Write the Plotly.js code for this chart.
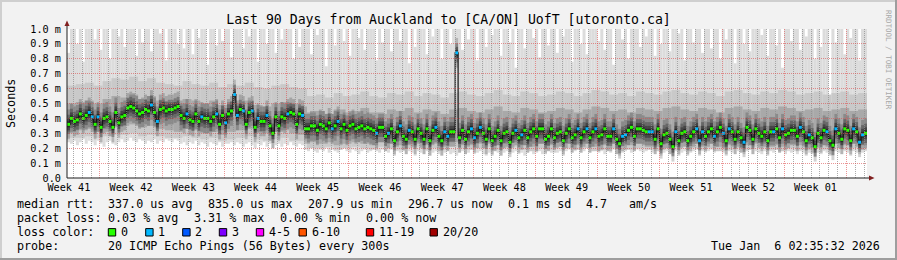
<!DOCTYPE html>
<html><head><meta charset="utf-8">
<script src="https://cdn.plot.ly/plotly-3.0.1.min.js"></script>
<style>html,body{margin:0;padding:0;background:#f2f2f2;}#chart{width:897px;height:260px;}</style>
</head><body><div id="chart"></div>
<script>
// ---------------- data ----------------
const startUTC = Date.UTC(2025, 9, 9, 7, 0, 0);
const DAY = 86400000;
const nDays = 90;
const firstMonday = Date.UTC(2025, 9, 13);

// median rtt (ms), one value per 8 hours
const median = [
0.36,0.40,0.38,0.39,0.43,0.40,0.42,0.44,0.41,0.36,
0.41,0.34,0.40,0.41,0.38,0.34,0.44,0.37,0.41,0.42,
0.47,0.48,0.47,0.45,0.43,0.44,0.46,0.45,0.49,0.44,
0.38,0.46,0.47,0.45,0.46,0.46,0.47,0.48,0.42,0.40,
0.43,0.39,0.38,0.43,0.38,0.41,0.40,0.40,0.38,0.41,
0.43,0.36,0.42,0.37,
0.43,0.45,0.56,0.42,0.46,0.45,0.36,0.44,0.45,0.34,
0.40,0.38,0.38,0.42,0.35,0.30,0.41,0.35,0.41,0.40,
0.43,0.44,0.43,0.36,0.43,0.42,0.33,0.33,0.35,0.35,
0.32,0.36,0.35,0.33,0.37,0.33,0.35,0.38,0.33,0.36,
0.32,0.35,0.36,0.33,0.34,0.35,0.33,0.34,0.33,0.32,
0.30,0.34,0.34,0.28,
0.30,0.33,0.25,0.31,0.35,0.28,0.26,0.32,0.31,0.26,
0.33,0.30,0.26,0.33,0.25,0.32,0.34,0.28,0.25,0.31,
0.28,0.31,0.31,0.84,0.27,0.32,0.26,0.31,0.33,0.27,
0.30,0.34,0.30,0.26,0.33,0.25,0.28,0.32,0.25,0.30,
0.31,0.24,0.30,0.32,0.27,0.29,0.32,0.27,0.31,0.33,
0.28,0.33,0.33,0.26,
0.28,0.33,0.27,0.30,0.31,0.25,0.30,0.33,0.27,0.29,
0.33,0.27,0.31,0.33,0.27,0.31,0.33,0.28,0.29,0.33,
0.28,0.28,0.33,0.26,0.23,0.28,0.29,0.32,0.34,0.28,
0.33,0.33,0.32,0.31,0.31,0.31,0.26,0.33,0.23,0.29,
0.30,0.26,0.21,0.31,0.25,0.30,0.31,0.25,0.28,0.31,
0.33,0.25,0.31,0.28,
0.31,0.33,0.28,0.31,0.34,0.30,0.25,0.33,0.31,0.26,
0.31,0.27,0.24,0.34,0.32,0.26,0.33,0.30,0.28,0.31,
0.25,0.31,0.31,0.33,0.27,0.33,0.29,0.30,0.32,0.32,
0.28,0.34,0.31,0.25,0.29,0.27,0.21,0.30,0.27,0.32,
0.31,0.25,0.22,0.33,0.30,0.26,0.33,0.32,0.25,0.33,
0.31,0.24,0.29,0.30];

// lost pings per sample (0 .. 20)
const lossCount = [
0,0,0,0,0,0,0,1,1,0, 1,0,0,0,0,0,0,0,0,0, 0,0,0,0,0,0,0,0,1,0, 1,0,0,0,0,0,0,0,0,0, 1,0,0,0,0,1,0,0,0,0, 1,0,0,1,
0,0,1,1,0,1,0,0,1,0, 1,0,0,1,0,0,0,0,0,0, 1,0,0,0,0,1,0,0,0,0, 0,0,0,0,0,1,0,1,0,0, 0,0,0,0,0,0,0,0,0,0, 1,0,0,0,
1,0,0,0,1,0,0,1,0,0, 0,0,0,0,0,0,1,0,0,1, 1,0,0,1,0,0,0,0,1,1, 0,1,0,0,0,0,0,0,0,0, 0,0,0,1,0,1,0,0,0,0, 0,0,0,0,
0,0,0,0,0,0,0,0,0,0, 1,0,0,1,0,0,1,0,0,0, 0,0,1,0,0,1,1,0,0,0, 0,0,0,0,1,1,0,0,0,0, 0,0,0,1,0,0,0,0,0,0, 1,1,1,0,
0,0,1,0,0,1,0,1,0,0, 0,0,1,0,0,0,0,0,0,0, 0,0,1,0,0,1,0,0,0,0, 0,1,0,0,1,0,0,0,0,0, 1,0,0,1,0,0,0,0,0,1, 0,1,1,0];

// highest ping per sample (ms)
const maxPing = [
0.84,1.2,1.2,0.9,1.2,0.78,1.2,1.2,1.2,0.93, 1.2,0.86,1.2,1.2,0.8,1.2,1.2,0.95,1.2,0.88, 1.2,1.2,1.2,0.82,1.2,0.91,1.2,1.2,0.85,1.2, 1.2,0.97,1.2,0.79,1.2,1.2,1.2,0.9,1.2,0.87, 1.2,1.2,0.83,1.2,0.94,1.2,1.2,0.76,1.2,1.2, 0.89,1.2,0.92,1.2,
1.2,0.81,1.2,1.2,1.2,0.87,1.2,0.95,1.2,1.2, 0.78,1.2,1.2,0.9,1.2,1.2,0.84,1.2,0.93,1.2, 1.2,1.2,0.8,1.2,0.88,1.2,1.2,1.2,0.83,1.2, 0.96,1.2,1.2,0.75,1.2,1.2,0.89,1.2,1.2,0.92, 1.2,0.82,1.2,1.2,0.94,1.2,0.86,1.2,1.2,1.2, 0.79,1.2,0.91,1.2,
1.2,0.85,1.2,1.2,0.92,1.2,1.2,0.77,1.2,0.88, 1.2,1.2,1.2,0.83,1.2,0.95,1.2,1.2,0.8,1.2, 1.2,0.9,1.2,1.2,1.2,0.86,1.2,0.93,1.2,1.2, 0.79,1.2,1.2,0.88,1.2,0.96,1.2,1.2,0.82,1.2, 1.2,0.91,1.2,0.74,1.2,1.2,0.87,1.2,1.2,0.94, 1.2,0.81,1.2,1.2,
0.89,1.2,1.2,0.84,1.2,0.95,1.2,1.2,0.78,1.2, 1.2,0.9,1.2,0.83,1.2,1.2,1.2,0.92,1.2,0.86, 1.2,1.2,0.76,1.2,1.2,0.93,1.2,0.8,1.2,1.2, 1.2,0.88,1.2,0.95,1.2,1.2,0.82,1.2,0.9,1.2, 1.2,0.85,1.2,1.2,0.97,1.2,0.79,1.2,1.2,0.91, 1.2,1.2,0.84,1.2,
1.2,0.87,1.2,1.2,0.8,1.2,0.93,1.2,1.2,0.77, 1.2,1.2,0.9,1.2,0.85,1.2,1.2,1.2,0.96,1.2, 0.82,1.2,1.2,0.89,1.2,0.74,1.2,1.2,0.92,1.2, 1.2,0.86,1.2,0.95,1.2,1.2,0.8,1.2,0.88,1.2, 1.2,0.52,1.2,0.91,1.2,1.2,0.83,1.2,0.94,1.2, 1.2,0.79,1.2,1.2];

// lowest ping per sample (ms)
const minPing = [
0.24,0.23,0.25,0.22,0.24,0.26,0.23,0.25,0.24,0.22, 0.25,0.23,0.21,0.24,0.25,0.23,0.22,0.24,0.26,0.24, 0.25,0.27,0.25,0.24,0.26,0.25,0.23,0.25,0.24,0.26, 0.23,0.25,0.24,0.26,0.25,0.24,0.26,0.25,0.23,0.24, 0.22,0.24,0.23,0.25,0.22,0.24,0.23,0.21,0.24,0.23, 0.22,0.24,0.21,0.23,
0.23,0.24,0.22,0.24,0.23,0.21,0.23,0.24,0.22,0.20, 0.23,0.22,0.24,0.21,0.23,0.20,0.22,0.23,0.21,0.23, 0.22,0.24,0.22,0.21,0.23,0.22, 0.19,0.18,0.20,0.18, 0.17,0.19,0.18,0.20,0.17,0.19,0.18,0.17,0.19,0.20, 0.18,0.17,0.19,0.18,0.16,0.18,0.19,0.17,0.18,0.20, 0.18,0.17,0.19,0.18,
0.17,0.19,0.16,0.18,0.17,0.19,0.16,0.18,0.17,0.15, 0.18,0.17,0.16,0.18,0.15,0.17,0.18,0.16,0.15,0.17, 0.18,0.16,0.17,0.15,0.17,0.18,0.16,0.17,0.19,0.16, 0.17,0.18,0.16,0.15,0.17,0.16,0.18,0.17,0.15,0.17, 0.18,0.16,0.17,0.18,0.16,0.17,0.15,0.17,0.18,0.16, 0.17,0.18,0.16,0.17,
0.18,0.17,0.19,0.17,0.18,0.16,0.18,0.19,0.17,0.18, 0.19,0.17,0.18,0.20,0.17,0.18,0.19,0.17,0.18,0.16, 0.18,0.17,0.19,0.16,0.15,0.17,0.18,0.19,0.17,0.18, 0.19,0.18,0.17,0.18,0.19,0.17,0.16,0.18,0.15,0.17, 0.18,0.16,0.15,0.18,0.16,0.17,0.18,0.16,0.17,0.18, 0.19,0.16,0.18,0.17,
0.18,0.19,0.17,0.18,0.19,0.17,0.16,0.18,0.17,0.16, 0.18,0.17,0.16,0.18,0.19,0.16,0.18,0.17,0.16,0.18, 0.16,0.18,0.17,0.19,0.17,0.18,0.16,0.18,0.17,0.18, 0.16,0.18,0.17,0.16,0.17,0.16,0.14,0.17,0.16,0.18, 0.17,0.16,0.15,0.18,0.17,0.16,0.18,0.17,0.16,0.18, 0.17,0.16,0.17,0.18];

// daily smoke envelopes (ms)
const outerHigh = [
0.62,0.63,0.64,0.62,0.65,0.67,0.66,0.68,0.65,0.67, 0.64,0.63,0.62,0.65,0.63,0.62,0.64,0.61,0.63,0.62, 0.64,0.61,0.60,0.62,0.63,0.61,0.60,
0.55,0.56,0.54,0.57,0.55,0.56,0.58,0.55,0.54,0.57, 0.56,0.58,0.55,0.57,0.56,0.54,0.57,0.58,0.56,0.55, 0.57,0.59,0.56,0.55,0.58,0.57,0.55,0.56,0.58,0.57, 0.55,0.57,0.59,0.58,0.56,0.57,0.55,0.58,0.57,0.56, 0.58,0.59,0.57,0.56,0.58,0.57,0.55,0.58,0.59,0.57, 0.56,0.58,0.57,0.59,0.58,0.56,0.57,0.58,0.56,0.57, 0.58,0.56,0.57];
const innerHigh = [
0.50,0.51,0.52,0.50,0.53,0.55,0.54,0.56,0.53,0.55, 0.52,0.51,0.50,0.53,0.52,0.50,0.52,0.49,0.51,0.50, 0.52,0.49,0.48,0.50,0.51,0.50,0.48,
0.44,0.45,0.43,0.46,0.44,0.45,0.47,0.44,0.43,0.46, 0.45,0.47,0.44,0.46,0.45,0.43,0.46,0.47,0.45,0.44, 0.46,0.48,0.45,0.44,0.47,0.46,0.44,0.45,0.47,0.46, 0.44,0.46,0.48,0.47,0.45,0.46,0.44,0.47,0.46,0.45, 0.47,0.48,0.46,0.45,0.47,0.46,0.44,0.47,0.48,0.46, 0.45,0.47,0.46,0.48,0.47,0.45,0.46,0.47,0.45,0.46, 0.47,0.45,0.46];
const innerLow = [
0.31,0.32,0.33,0.31,0.33,0.35,0.35,0.36,0.34,0.35, 0.33,0.32,0.31,0.33,0.32,0.30,0.31,0.29,0.31,0.32, 0.33,0.31,0.30,0.31,0.32,0.30,0.29,
0.24,0.23,0.24,0.22,0.23,0.24,0.23,0.22,0.24,0.23, 0.22,0.23,0.24,0.22,0.23,0.22,0.24,0.23,0.22,0.23, 0.24,0.22,0.23,0.24,0.22,0.21,0.23,0.22,0.24,0.23, 0.22,0.23,0.21,0.22,0.23,0.24,0.22,0.23,0.22,0.21, 0.23,0.22,0.24,0.23,0.22,0.23,0.21,0.22,0.23,0.22, 0.24,0.23,0.22,0.21,0.23,0.22,0.23,0.24,0.22,0.23, 0.22,0.23,0.22];
const outerLow = [
0.27,0.27,0.28,0.27,0.28,0.29,0.29,0.30,0.28,0.29, 0.28,0.27,0.27,0.28,0.27,0.26,0.27,0.25,0.26,0.27, 0.28,0.26,0.25,0.26,0.27,0.25,0.25,
0.20,0.20,0.21,0.19,0.20,0.21,0.20,0.19,0.21,0.20, 0.19,0.20,0.21,0.19,0.20,0.19,0.21,0.20,0.19,0.20, 0.21,0.19,0.20,0.21,0.19,0.18,0.20,0.19,0.21,0.20, 0.19,0.20,0.18,0.19,0.20,0.21,0.19,0.20,0.19,0.18, 0.20,0.19,0.21,0.20,0.19,0.20,0.18,0.19,0.20,0.19, 0.21,0.20,0.19,0.18,0.20,0.19,0.20,0.21,0.19,0.20, 0.19,0.20,0.19];

// axis / legend text
const yTickVals = [0,0.1,0.2,0.3,0.4,0.5,0.6,0.7,0.8,0.9,1.0];
const yTickText = ['0.0','0.1 m','0.2 m','0.3 m','0.4 m','0.5 m','0.6 m','0.7 m','0.8 m','0.9 m','1.0 m'];
const lossLabels = ['0','1','2','3','4-5','6-10','11-19','20/20'];
const lossColors = ['#26ff00','#00b8ff','#0059ff','#7e00ff','#ff00ff','#ff5500','#ff0000','#a10000'];
const rttLine = ['median rtt:','337.0 us avg','835.0 us max','207.9 us min','296.7 us now','0.1 ms sd','4.7','am/s'];
const lossLine = ['packet loss:','0.03 % avg','3.31 % max','0.00 % min','0.00 % now'];
const probeLine = ['probe:','20 ICMP Echo Pings (56 Bytes) every 300s'];
const stampText = 'Tue Jan\u00a0\u00a06 02:35:32 2026';
const titleText = 'Last 90 Days from Auckland to [CA/ON] UofT [utoronto.ca]';

// ---------------- build ----------------
const nSteps = median.length;
const stepMs = nDays * DAY / nSteps;
const tStep = median.map((_, i) => startUTC + (i + 0.5) * stepMs);
const tDay = outerHigh.map((_, d) => startUTC + (d + 0.5) * DAY);
const endUTC = startUTC + nDays * DAY;

const PX = x => (x - 67) / 800;
const PY = y => (178 - y) / 149;
const MONO = 'DejaVu Sans Mono';

const traces = [
  {type:'bar', x:tStep, base:minPing, y:maxPing.map((v,i)=>v-minPing[i]), width:stepMs*1.02,
   marker:{color:'#dcdcdc', line:{width:0}}, hoverinfo:'skip'},
  {type:'bar', x:tDay, base:outerLow, y:outerHigh.map((v,i)=>v-outerLow[i]), width:DAY*1.01,
   marker:{color:'#c9c9c9', line:{width:0}}, hoverinfo:'skip'},
  {type:'bar', x:tDay, base:innerLow, y:innerHigh.map((v,i)=>v-innerLow[i]), width:DAY*1.01,
   marker:{color:'#a9a9a9', line:{width:0}}, hoverinfo:'skip'}
];
// smoke density around the median (half-height in ms, opacity)
const coreLayers = [[0.10,0.18],[0.065,0.25],[0.04,0.32],[0.02,0.42]];
coreLayers.forEach(([h,a]) => traces.push({type:'bar', x:tStep, base:median.map(v=>v-h), y:median.map(()=>2*h),
  width:stepMs, marker:{color:`rgba(0,0,0,${a})`, line:{width:0}}, hoverinfo:'skip'}));
traces.push(
  {type:'scatter', mode:'lines', x:tStep, y:median, line:{shape:'hvh', color:'#141414', width:1.2}, hoverinfo:'skip'},
  {type:'scatter', mode:'markers', x:tStep, y:median,
   marker:{symbol:'square', size:3, color:lossCount.map(c=>lossColors[Math.min(c,7)]), line:{width:0}}, hoverinfo:'skip'},
  {type:'scatter', mode:'markers', x:[], y:[], xaxis:'x2', yaxis:'y2', hoverinfo:'skip'}
);

const gridMajor = 'rgba(222,79,79,0.6)';
const gridMinor = 'rgba(143,143,143,0.75)';

const annotations = [];
function txt(text, x, y, opts) {
  annotations.push(Object.assign({xref:'paper', yref:'paper', x:PX(x), y:PY(y), text:text,
    showarrow:false, xanchor:'left', yanchor:'middle', borderpad:0,
    font:{family:MONO, size:11.7, color:'#000'}}, opts || {}));
}
const rttX = [15.5,106.8,206.8,306.8,406.8,506.8,585.2,627.8];
rttLine.forEach((t,i)=>txt(t, rttX[i], 204.3));
const lossX = [15.5,106.8,192.8,278.8,365.2];
lossLine.forEach((t,i)=>txt(t, lossX[i], 218.3));
txt('loss color:', 15.5, 232.3);
const boxX = [108.3,145.7,182.7,219.3,256.3,299,366.3,430];
lossLabels.forEach((t,i)=>txt(t, boxX[i]+11.5, 232.3));
txt(probeLine[0], 15.5, 246.3);
txt(probeLine[1], 106.8, 246.3);
txt(stampText, 881, 246.3, {xanchor:'right'});
txt('Seconds', 11, 103, {xanchor:'center', textangle:-90});
txt('RRDTOOL / TOBI OETIKER', 889, 60, {xanchor:'center', textangle:90, font:{family:MONO, size:7.5, color:'#a8a8a8'}});

const shapes = [
  {type:'rect', layer:'below', xref:'paper', yref:'paper', x0:0, x1:1, y0:0, y1:1, fillcolor:'#ffffff', line:{width:0}},
  {type:'rect', xref:'paper', yref:'paper', x0:PX(0), x1:PX(897), y0:PY(2), y1:PY(0), fillcolor:'#cfcfcf', line:{width:0}},
  {type:'rect', xref:'paper', yref:'paper', x0:PX(0), x1:PX(2), y0:PY(260), y1:PY(0), fillcolor:'#cfcfcf', line:{width:0}},
  {type:'rect', xref:'paper', yref:'paper', x0:PX(895), x1:PX(897), y0:PY(260), y1:PY(0), fillcolor:'#9e9e9e', line:{width:0}},
  {type:'rect', xref:'paper', yref:'paper', x0:PX(0), x1:PX(897), y0:PY(260), y1:PY(258), fillcolor:'#9e9e9e', line:{width:0}},
  {type:'line', xref:'paper', yref:'paper', x0:PX(67), x1:PX(870), y0:PY(178), y1:PY(178), line:{color:'#1f1f1f', width:1}},
  {type:'line', xref:'paper', yref:'paper', x0:PX(67), x1:PX(67), y0:PY(178), y1:PY(24), line:{color:'#1f1f1f', width:1}},
  {type:'path', xref:'paper', yref:'paper', path:`M ${PX(64.5)} ${PY(26)} L ${PX(69.5)} ${PY(26)} L ${PX(67)} ${PY(20.5)} Z`, fillcolor:'#801f1f', line:{width:0}},
  {type:'path', xref:'paper', yref:'paper', path:`M ${PX(869)} ${PY(175.5)} L ${PX(869)} ${PY(180.5)} L ${PX(874.5)} ${PY(178)} Z`, fillcolor:'#801f1f', line:{width:0}}
];
boxX.forEach((bx,i)=>shapes.push({type:'rect', xref:'paper', yref:'paper', x0:PX(bx), x1:PX(bx+7.4), y0:PY(236), y1:PY(228.6),
  fillcolor:lossColors[i], line:{color:'#000', width:1}}));

const layout = {
  width:897, height:260,
  margin:{l:67, r:30, t:29, b:82, pad:0},
  paper_bgcolor:'#f2f2f2', plot_bgcolor:'rgba(0,0,0,0)',
  showlegend:false, barmode:'overlay', hovermode:false,
  title:{text:titleText, font:{family:MONO, size:13.2, color:'#000'}, xref:'container', x:0.5, xanchor:'center', yref:'container', y:1-19/260, yanchor:'middle'},
  xaxis:{type:'date', range:[startUTC, endUTC], visible:false, fixedrange:true},
  yaxis:{range:[0,1], visible:false, fixedrange:true},
  xaxis2:{type:'date', range:[startUTC, endUTC], anchor:'y2', tick0:firstMonday, dtick:7*DAY,
    tickformat:'Week %V', ticklabelmode:'period', ticks:'', showline:false, zeroline:false,
    showgrid:true, gridcolor:gridMajor, griddash:'1px,1px', gridwidth:1,
    minor:{tick0:firstMonday, dtick:DAY, showgrid:true, gridcolor:gridMinor, griddash:'1px,1px', gridwidth:1, ticks:''},
    tickfont:{family:MONO, size:10.2, color:'#000'}, ticklabelstandoff:2, fixedrange:true},
  yaxis2:{range:[0,1], anchor:'x2', tickvals:yTickVals, ticktext:yTickText, ticks:'', showline:false, zeroline:false,
    showgrid:true, gridcolor:gridMajor, griddash:'1px,1px', gridwidth:1,
    tickfont:{family:MONO, size:10.2, color:'#000'}, ticklabelstandoff:5, fixedrange:true},
  annotations:annotations,
  shapes:shapes
};

Plotly.newPlot('chart', traces, layout, {displayModeBar:false, staticPlot:true});
</script></body></html>
